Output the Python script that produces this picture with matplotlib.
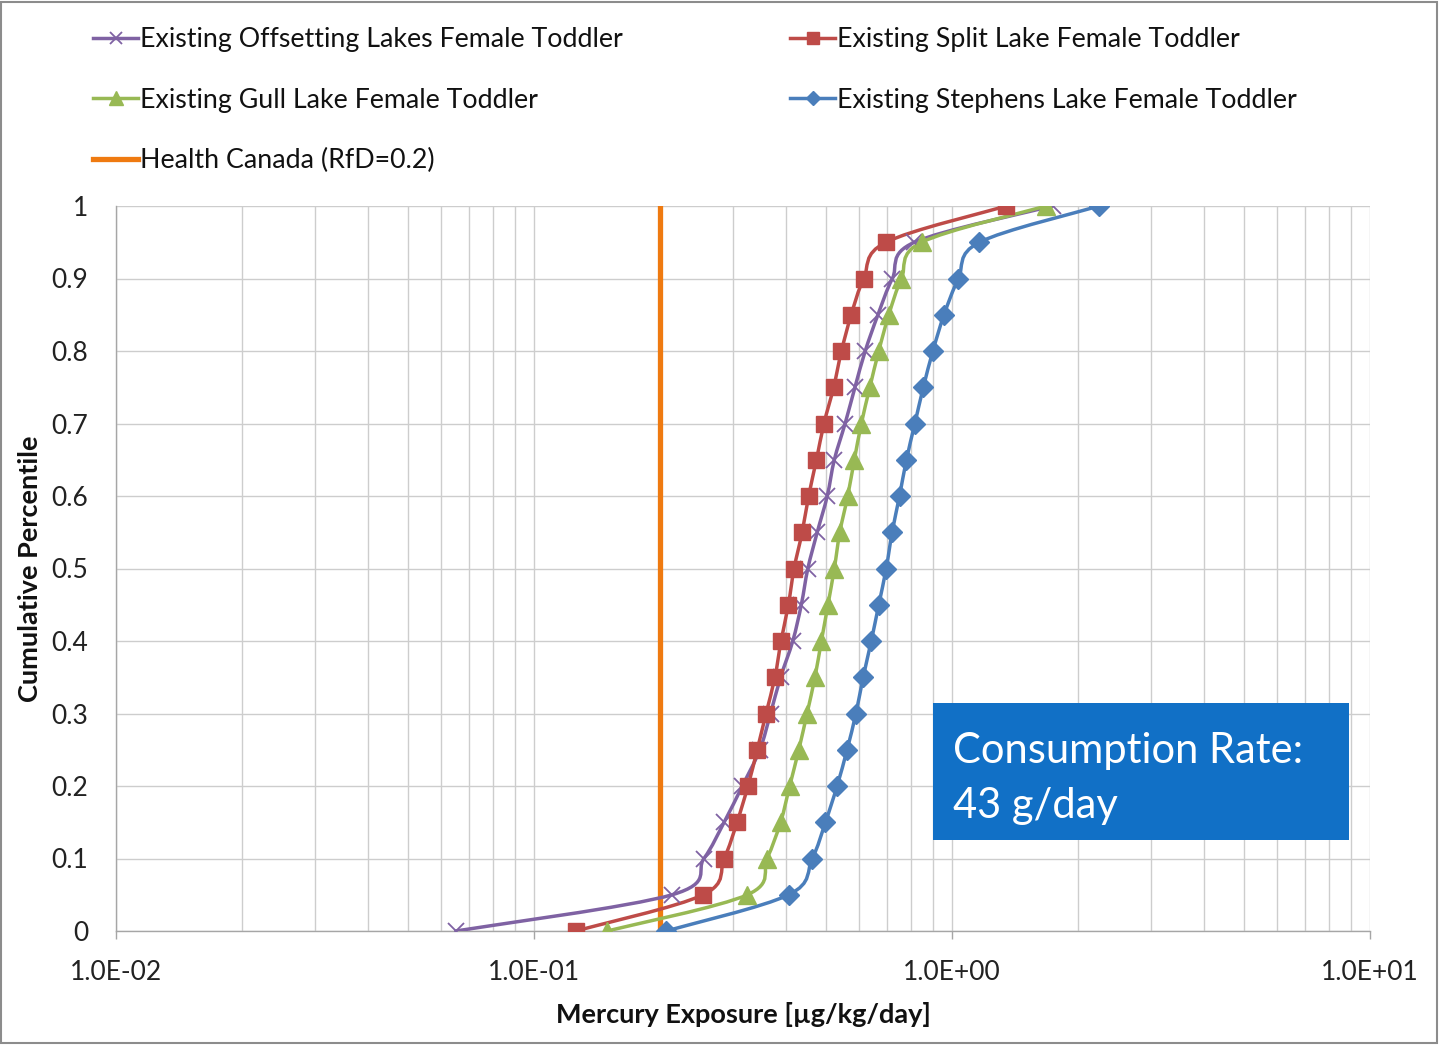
# -*- coding: utf-8 -*-
# Curvas de percentil acumulado da exposicao ao mercurio (eixo x em escala log)
import numpy as np
import matplotlib
matplotlib.use('Agg')
import matplotlib.pyplot as plt
from matplotlib.patches import Rectangle, PathPatch
from matplotlib.path import Path
from matplotlib.lines import Line2D
from matplotlib.ticker import FixedLocator, FixedFormatter, LogLocator, NullFormatter

# Dados
percentis = [0.0, 0.05, 0.10, 0.15, 0.20, 0.25, 0.30, 0.35, 0.40, 0.45, 0.50,
             0.55, 0.60, 0.65, 0.70, 0.75, 0.80, 0.85, 0.90, 0.95, 1.0]

offsetting = [0.065, 0.214, 0.255, 0.285, 0.315, 0.347, 0.368, 0.389, 0.416, 0.436, 0.452,
              0.476, 0.503, 0.523, 0.555, 0.586, 0.620, 0.665, 0.720, 0.813, 1.74]
split_lake = [0.1257, 0.254, 0.285, 0.306, 0.325, 0.342, 0.359, 0.377, 0.390, 0.406, 0.419,
              0.438, 0.454, 0.474, 0.494, 0.521, 0.544, 0.574, 0.615, 0.695, 1.35]
gull_lake = [0.1496, 0.324, 0.361, 0.389, 0.409, 0.430, 0.450, 0.470, 0.487, 0.505, 0.523,
             0.539, 0.563, 0.584, 0.607, 0.636, 0.668, 0.706, 0.757, 0.846, 1.68]
stephens = [0.207, 0.407, 0.463, 0.498, 0.531, 0.561, 0.589, 0.613, 0.641, 0.668, 0.696,
            0.719, 0.749, 0.778, 0.815, 0.854, 0.900, 0.957, 1.036, 1.163, 2.25]

rfd = 0.2
rfd_y = [0.0, 1.0]

nomes = ['Existing Offsetting Lakes Female Toddler',
         'Existing Split Lake Female Toddler',
         'Existing Gull Lake Female Toddler',
         'Existing Stephens Lake Female Toddler',
         'Health Canada (RfD=0.2)']

xticks = [0.01, 0.1, 1.0, 10.0]
xtick_labels = ['1.0E-02', '1.0E-01', '1.0E+00', '1.0E+01']
yticks = [0.0, 0.1, 0.2, 0.3, 0.4, 0.5, 0.6, 0.7, 0.8, 0.9, 1.0]
ytick_labels = ['0', '0.1', '0.2', '0.3', '0.4', '0.5', '0.6', '0.7', '0.8', '0.9', '1']

caixa_texto = 'Consumption Rate:\n43 g/day'

# Cores (estilo Excel)
c_roxo = '#7F62A3'
c_verm = '#BE4B48'
c_verde = '#98B954'
c_azul = '#4A7EBB'
c_laranja = '#EF7A10'


def linha_suave(ax, xs, ys, cor, lw):
    """Linha suavizada (como o 'smoothed line' do Excel): Bezier tipo
    Catmull-Rom calculada em (log10 x, y) e desenhada pelo proprio eixo."""
    lx = np.log10(np.asarray(xs, dtype=float))
    yy = np.asarray(ys, dtype=float)
    n = len(lx)
    verts = [(xs[0], ys[0])]
    codes = [Path.MOVETO]
    for i in range(n - 1):
        i0 = max(i - 1, 0)
        i3 = min(i + 2, n - 1)
        c1x = lx[i] + (lx[i + 1] - lx[i0]) / 6.0
        c1y = yy[i] + (yy[i + 1] - yy[i0]) / 6.0
        c2x = lx[i + 1] - (lx[i3] - lx[i]) / 6.0
        c2y = yy[i + 1] - (yy[i3] - yy[i]) / 6.0
        verts += [(10 ** c1x, c1y), (10 ** c2x, c2y), (xs[i + 1], ys[i + 1])]
        codes += [Path.CURVE4, Path.CURVE4, Path.CURVE4]
    ax.add_patch(PathPatch(Path(verts, codes), facecolor='none', edgecolor=cor,
                           lw=lw, capstyle='round', joinstyle='round', zorder=3))


plt.rcParams['font.family'] = ['Lato', 'DejaVu Sans']

W, H = 1441, 1046
fig = plt.figure(figsize=(W / 100, H / 100), dpi=100)
ax = fig.add_axes([116 / W, 1 - 931 / H, (1370 - 116) / W, (931 - 206) / H])

lw = 2.5
series = [
    (offsetting, c_roxo, dict(marker='x', ms=11.5, mew=1.3), 4),
    (split_lake, c_verm, dict(marker='s', ms=12), 5),
    (gull_lake, c_verde, dict(marker='^', ms=12.5), 4),
    (stephens, c_azul, dict(marker='D', ms=10), 4),
]
handles = []
for xs, cor, mk, z in series:
    linha_suave(ax, xs, percentis, cor, lw)
    ax.plot(xs, percentis, ls='none', color=cor, zorder=z, **mk)
    h_mk = dict(mk)
    h_mk['ms'] = mk['ms'] * 0.75
    handles.append(Line2D([], [], color=cor, lw=lw, **h_mk))
l_rfd, = ax.plot([rfd, rfd], rfd_y, color=c_laranja, lw=3.8, zorder=2)

ax.set_xscale('log')
ax.set_xlim(0.01, 10)
ax.set_ylim(0, 1)

ax.xaxis.set_major_locator(FixedLocator(xticks))
ax.xaxis.set_major_formatter(FixedFormatter(xtick_labels))
ax.xaxis.set_minor_locator(LogLocator(base=10, subs=np.arange(2, 10)))
ax.xaxis.set_minor_formatter(NullFormatter())
ax.set_yticks(yticks)
ax.set_yticklabels(ytick_labels)

ax.grid(True, which='both', axis='x', color='#CDCDCD', lw=1.0, zorder=0)
ax.grid(True, which='major', axis='y', color='#CDCDCD', lw=1.0, zorder=0)
ax.set_axisbelow(True)

for s in ['top', 'right']:
    ax.spines[s].set_visible(False)
for s in ['left', 'bottom']:
    ax.spines[s].set_color('#A6A6A6')
    ax.spines[s].set_linewidth(1.0)

ax.tick_params(axis='x', which='major', length=6, width=1, color='#A6A6A6',
               labelsize=19, pad=15, labelcolor='#222222')
ax.tick_params(axis='x', which='minor', length=0)
ax.tick_params(axis='y', length=0, labelsize=19, pad=20, labelcolor='#222222')

ax.set_xlabel('Mercury Exposure [\u00b5g/kg/day]', fontsize=19.5, fontweight='bold',
              labelpad=12, color='#111111')
ax.set_ylabel('Cumulative Percentile', fontsize=19.5, fontweight='bold',
              labelpad=7, color='#111111')

# Caixa azul com a taxa de consumo
ax.add_patch(Rectangle((817 / 1254, 91 / 725), 416 / 1254, 137 / 725,
                       transform=ax.transAxes, facecolor='#1170C6', edgecolor='none', zorder=6))
ax.text(837 / 1254, 0.211, caixa_texto, transform=ax.transAxes, fontsize=30,
        color='white', va='center', ha='left', linespacing=1.55, zorder=7)

# Legenda em duas colunas
leg_kw = dict(frameon=False, fontsize=19.3, handlelength=1.68, handletextpad=0.08,
              labelspacing=1.33, borderaxespad=0, borderpad=0, loc='upper left')
leg1 = fig.legend([handles[0], handles[2], l_rfd], [nomes[0], nomes[2], nomes[4]],
                  bbox_to_anchor=(93 / W, 1 - 27 / H), **leg_kw)
leg2 = fig.legend([handles[1], handles[3]], [nomes[1], nomes[3]],
                  bbox_to_anchor=(790 / W, 1 - 27 / H), **leg_kw)
for leg in (leg1, leg2):
    for t in leg.get_texts():
        t.set_color('#111111')

# Moldura externa
fig.patches.append(Rectangle((1 / W, 3 / H), 1 - 5 / W, 1 - 5 / H, transform=fig.transFigure,
                             fill=False, edgecolor='#8C8C8C', lw=1.5))

fig.savefig('out.png', dpi=100)
